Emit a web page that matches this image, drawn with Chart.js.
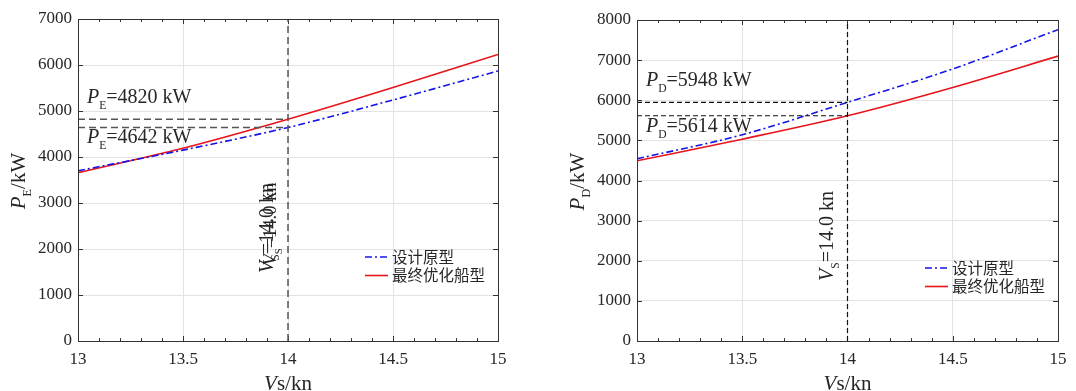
<!DOCTYPE html>
<html>
<head>
<meta charset="utf-8">
<script src="https://cdn.jsdelivr.net/npm/chart.js@4.4.1/dist/chart.umd.min.js"></script>
<style>
  html, body { margin: 0; padding: 0; background: #fff; }
  #wrap { position: relative; width: 1076px; height: 391px; overflow: hidden; }
  canvas { position: absolute; top: 0; }
</style>
</head>
<body>
<div id="wrap">
  <canvas id="chartE" width="540" height="391" style="left:0"></canvas>
  <canvas id="chartD" width="536" height="391" style="left:540px"></canvas>
</div>
<script>
// speeds (kn)
var speeds = [13, 13.5, 14, 14.5, 15];
var xTicks = [13, 13.5, 14, 14.5, 15];
// effective power P_E (kW)
var peDesign = [3700, 4150, 4642, 5240, 5870];
var peOptimal = [3660, 4190, 4820, 5510, 6230];
// delivered power P_D (kW)
var pdDesign = [4540, 5140, 5948, 6780, 7760];
var pdOptimal = [4490, 5030, 5614, 6320, 7100];
// reference speed and marked values
var refSpeed = 14.0;
var peMarks = [4820, 4642];
var pdMarks = [5948, 5614];
var legendNames = ['设计原型', '最终优化船型'];

var serif = '"Liberation Serif", "Times New Roman", serif';
var textColor = '#262626';

function pts(ys) {
    return speeds.map(function (x, i) { return { x: x, y: ys[i] }; });
}

// draws text pieces like P + subscript E + "=4820 kW"
function richWidth(ctx, parts, size) {
    var w = 0;
    parts.forEach(function (p) {
        var fs = p.sub ? size * 0.58 : size;
        ctx.font = (p.it ? 'italic ' : '') + fs + 'px ' + serif;
        w += ctx.measureText(p.t).width;
    });
    return w;
}
function drawRich(ctx, x, y, parts, size) {
    parts.forEach(function (p) {
        var fs = p.sub ? size * 0.58 : size;
        ctx.font = (p.it ? 'italic ' : '') + fs + 'px ' + serif;
        ctx.fillText(p.t, x, y + (p.sub ? size * 0.3 : 0));
        x += ctx.measureText(p.t).width;
    });
}

function makeChart(id, opt) {
    var decor = {
        id: 'decor',
        beforeDatasetsDraw: function (chart) {
            var ctx = chart.ctx, a = chart.chartArea;
            var xs = chart.scales.x, ys = chart.scales.y;
            ctx.save();
            ctx.strokeStyle = '#333';
            ctx.lineWidth = 1;
            // inner minor / major ticks on x
            for (var v = 13; v <= 15.001; v += 0.1) {
                var px = Math.round(xs.getPixelForValue(v)) + 0.5;
                var major = Math.abs(v * 2 - Math.round(v * 2)) < 0.01;
                var len = major ? 5 : 3;
                ctx.beginPath();
                ctx.moveTo(px, a.bottom); ctx.lineTo(px, a.bottom - len);
                ctx.moveTo(px, a.top); ctx.lineTo(px, a.top + len);
                ctx.stroke();
            }
            ys.ticks.forEach(function (t) {
                var py = Math.round(ys.getPixelForValue(t.value)) + 0.5;
                ctx.beginPath();
                ctx.moveTo(a.left, py); ctx.lineTo(a.left + 5, py);
                ctx.moveTo(a.right, py); ctx.lineTo(a.right - 5, py);
                ctx.stroke();
            });
            ctx.restore();
        },
        afterDraw: function (chart) {
            var ctx = chart.ctx, a = chart.chartArea;
            var xs = chart.scales.x, ys = chart.scales.y;
            ctx.save();
            // frame
            ctx.strokeStyle = '#333';
            ctx.lineWidth = 1;
            ctx.strokeRect(Math.round(a.left) + 0.5, Math.round(a.top) + 0.5,
                Math.round(a.right - a.left), Math.round(a.bottom - a.top));

            ctx.fillStyle = textColor;
            ctx.textBaseline = 'alphabetic';
            ctx.textAlign = 'left';

            // value labels
            var sym = opt.sym;
            drawRich(ctx, a.left + 9, ys.getPixelForValue(opt.marks[0]) - 16,
                [{ t: 'P', it: true }, { t: sym, sub: true }, { t: '=' + opt.marks[0] + ' kW' }], 20);
            drawRich(ctx, a.left + 9, ys.getPixelForValue(opt.marks[1]) + 16,
                [{ t: 'P', it: true }, { t: sym, sub: true }, { t: '=' + opt.marks[1] + ' kW' }], 20);

            // vertical speed label
            var vs = [{ t: 'V', it: true }, { t: 'S', sub: true }, { t: '=14.0 kn' }];
            var cx = xs.getPixelForValue(refSpeed) - 21;
            var cy = opt.vlabelY;
            var copies = opt.doubled ? [[0, 0, 20], [3, -4, 18.5]] : [[0, 0, 20]];
            copies.forEach(function (c) {
                ctx.save();
                ctx.translate(cx + c[0], cy + c[1]);
                ctx.rotate(-Math.PI / 2);
                var w = richWidth(ctx, vs, c[2]);
                drawRich(ctx, -w / 2, 6, vs, c[2]);
                ctx.restore();
            });

            // y title
            var yt = [{ t: 'P', it: true }, { t: sym, sub: true }, { t: '/kW' }];
            ctx.save();
            ctx.translate(a.left - 60, (a.top + a.bottom) / 2 + 1);
            ctx.rotate(-Math.PI / 2);
            var yw = richWidth(ctx, yt, 21);
            drawRich(ctx, -yw / 2, 7, yt, 21);
            ctx.restore();

            // x title
            var xt = [{ t: 'V', it: true }, { t: 's/kn' }];
            var xw = richWidth(ctx, xt, 21);
            drawRich(ctx, (a.left + a.right) / 2 - xw / 2, 390, xt, 21);

            // legend
            var lx = opt.legend[0], ly = opt.legend[1];
            var styles = [
                { color: '#1414e6', dash: [7, 3, 2, 3] },
                { color: '#e8141c', dash: [] }
            ];
            styles.forEach(function (s, i) {
                var y = ly + i * 18.5;
                ctx.beginPath();
                ctx.strokeStyle = s.color;
                ctx.lineWidth = 1.6;
                ctx.setLineDash(s.dash);
                ctx.moveTo(lx, y); ctx.lineTo(lx + 23, y);
                ctx.stroke();
                ctx.setLineDash([]);
                ctx.fillStyle = textColor;
                ctx.font = '15.5px "Noto Sans CJK SC"';
                ctx.textBaseline = 'middle';
                ctx.fillText(legendNames[i], lx + 27, y);
            });
            ctx.restore();
        }
    };

    var refColor = opt.doubled ? '#555' : '#111';
    var refDash = opt.doubled ? [7, 4] : [5, 3];
    var refWidth = opt.doubled ? 1.5 : 1.2;
    var refLine = function (data) {
        return {
            data: data, borderColor: refColor, borderDash: refDash, borderWidth: refWidth,
            pointRadius: 0, tension: 0, fill: false
        };
    };

    return new Chart(document.getElementById(id), {
        type: 'line',
        data: {
            datasets: [
                refLine([{ x: 13, y: opt.marks[0] }, { x: refSpeed, y: opt.marks[0] }]),
                refLine([{ x: 13, y: opt.marks[1] }, { x: refSpeed, y: opt.marks[1] }]),
                refLine([{ x: refSpeed, y: 0 }, { x: refSpeed, y: opt.yMax }]),
                {
                    data: pts(opt.design), borderColor: '#1414e6', borderWidth: 1.6,
                    borderDash: [7, 3, 2, 3], pointRadius: 0, tension: 0.3, cubicInterpolationMode: 'monotone'
                },
                {
                    data: pts(opt.optimal), borderColor: '#e8141c', borderWidth: 1.6,
                    pointRadius: 0, tension: 0.3, cubicInterpolationMode: 'monotone'
                }
            ]
        },
        options: {
            responsive: false,
            animation: false,
            devicePixelRatio: 1,
            layout: { padding: { left: 0, top: opt.top, right: opt.right, bottom: 0 } },
            plugins: { legend: { display: false }, tooltip: { enabled: false } },
            scales: {
                x: {
                    type: 'linear', min: 13, max: 15,
                    afterBuildTicks: function (scale) {
                        scale.ticks = xTicks.map(function (v) { return { value: v }; });
                    },
                    afterFit: function (scale) { scale.height = 50; },
                    grid: { color: '#e3e3e3', drawTicks: false },
                    border: { display: false },
                    ticks: {
                        padding: 8, color: textColor,
                        font: { family: serif, size: 17 },
                        maxRotation: 0,
                        callback: function (v) { return String(v); }
                    }
                },
                y: {
                    min: 0, max: opt.yMax,
                    afterFit: function (scale) { scale.width = opt.left; },
                    grid: { color: '#e3e3e3', drawTicks: false },
                    border: { display: false },
                    ticks: {
                        stepSize: 1000, padding: 6, color: textColor,
                        font: { family: serif, size: 17 },
                        callback: function (v) { return String(v); }
                    }
                }
            }
        },
        plugins: [decor]
    });
}

makeChart('chartE', {
    sym: 'E', marks: peMarks, design: peDesign, optimal: peOptimal, yMax: 7000,
    left: 78, top: 19, right: 42, vlabelY: 228, legend: [365, 257], doubled: true
});
makeChart('chartD', {
    sym: 'D', marks: pdMarks, design: pdDesign, optimal: pdOptimal, yMax: 8000,
    left: 97, top: 20, right: 18, vlabelY: 236, legend: [385, 268], doubled: false
});
</script>
</body>
</html>
